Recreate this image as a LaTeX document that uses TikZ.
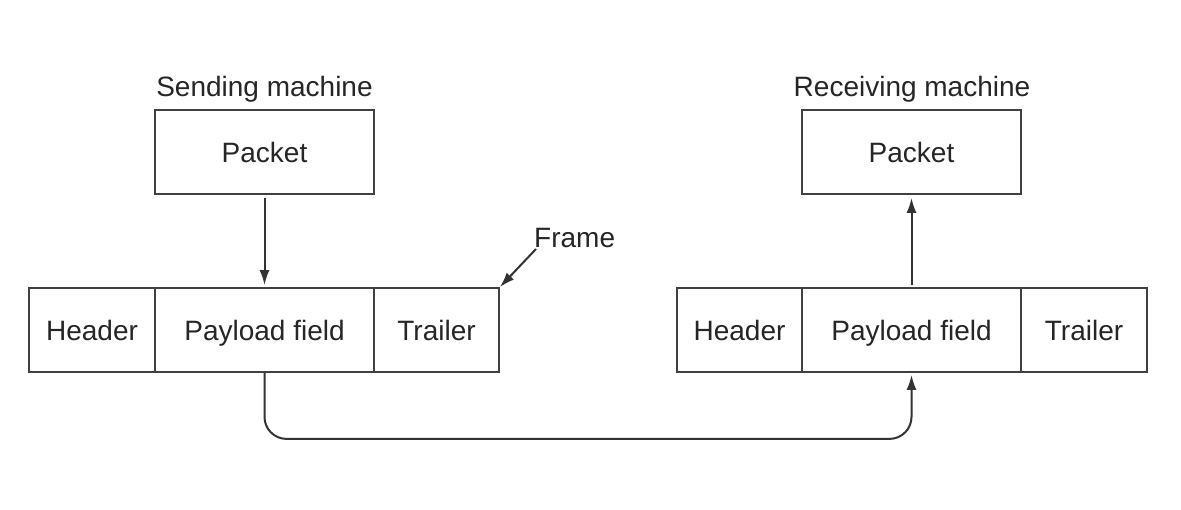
\documentclass[tikz,border=0pt]{standalone}
\usepackage{fontspec}
\setmainfont{Liberation Sans}
\usetikzlibrary{arrows.meta}
\begin{document}
\begin{tikzpicture}[x=1pt,y=-1pt,
  box/.style={draw=black!75,line width=1.8pt,minimum height=84pt,inner sep=0pt,text height=24pt,text depth=3pt,font=\fontsize{28}{33}\selectfont,text=black!85},
  lbl/.style={font=\fontsize{28}{33}\selectfont,text=black!85,inner sep=0pt,text height=24pt,text depth=3pt},
  conn/.style={draw=black!80,line width=2pt,-{Latex[length=15pt,width=10pt]}}]
\fill[white] (0,0) rectangle (1181,510);
\useasboundingbox (0,0) rectangle (1181,510);
% left
\node[box,minimum width=219pt] (lp) at (264.5,152) {Packet};
\node[box,minimum width=126pt] (lh) at (92,330) {Header};
\node[box,minimum width=219pt] (lpl) at (264.5,330) {Payload field};
\node[box,minimum width=125pt] (lt) at (436.5,330) {Trailer};
\node[lbl] (ls) at (264.5,86) {Sending machine};
% right
\node[box,minimum width=219pt] (rp) at (911.5,152) {Packet};
\node[box,minimum width=125pt] (rh) at (739.5,330) {Header};
\node[box,minimum width=219pt] (rpl) at (911.5,330) {Payload field};
\node[box,minimum width=126pt] (rt) at (1084,330) {Trailer};
\node[lbl] (rs) at (912,86) {Receiving machine};
% frame label
\node[lbl,anchor=west] (fr) at (534,237) {Frame};
\coordinate (fa) at (536,249);
\draw[conn] (fa) -- (lt.north east);
% arrows
\draw[conn] ([yshift=-3pt]lp.south) -- ([yshift=2pt]lpl.north);
\draw[conn] ([yshift=2pt]rpl.north) -- ([yshift=-3pt]rp.south);
\draw[conn,rounded corners=22pt] (lpl.south) -- ++(0,66) -| ([yshift=-2pt]rpl.south);
\end{tikzpicture}
\end{document}
